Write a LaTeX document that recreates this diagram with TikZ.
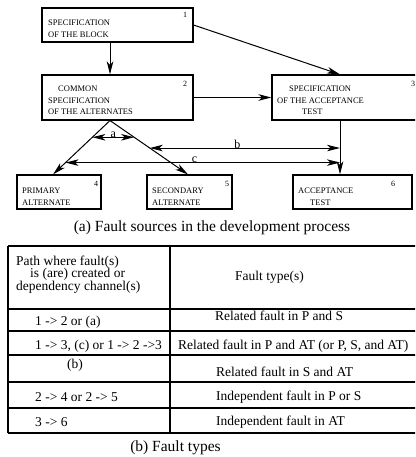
\documentclass[tikz,border=0pt]{standalone}
\usepackage{fontspec}
\setmainfont{Liberation Serif}
\usetikzlibrary{arrows.meta,calc}
\begin{document}
\begin{tikzpicture}[x=1pt,y=-1pt,
  box/.style={draw,line width=1.1pt,inner sep=0pt},
  boxtxt/.style={font=\fontsize{8.5}{11.5}\selectfont,align=left,anchor=west,inner sep=0pt},
  num/.style={font=\fontsize{8}{9}\selectfont,inner sep=0pt},
  tip/.tip={Stealth[length=13pt,width=6.5pt,inset=3.5pt]},
  arr/.style={line width=1pt,-tip},
  darr/.style={line width=1pt,tip-tip},
  lbl/.style={font=\fontsize{12}{14}\selectfont,inner sep=0pt,anchor=south,yshift=-1pt},
  ttxt/.style={font=\fontsize{13.5}{12.6}\selectfont,inner sep=0pt,align=left},
  captxt/.style={font=\fontsize{15.5}{18}\selectfont,inner sep=0pt},
  tline/.style={line width=1.4pt}
]
\useasboundingbox (0,0) rectangle (415,457);
\clip (0,0) rectangle (415,457);

% boxes
\node[box,minimum width=151pt,minimum height=34pt] (b1) at (117.5,25) {};
\node[box,minimum width=151pt,minimum height=45pt] (b2) at (117.5,97.5) {};
\node[box,minimum width=150pt,minimum height=45pt] (b3) at (347,97.5) {};
\node[box,minimum width=84pt,minimum height=34pt] (b4) at (59,192) {};
\node[box,minimum width=85pt,minimum height=34pt] (b5) at (189.5,192) {};
\node[box,minimum width=119pt,minimum height=34pt] (b6) at (352.5,192) {};

% box texts
\node[boxtxt] (t1) at (48,28.5) {SPECIFICATION\\OF THE BLOCK};
\node[boxtxt] (t2) at (48,100.5) {\hspace*{10pt}COMMON\\SPECIFICATION\\OF THE ALTERNATES};
\node[boxtxt] (t3) at (277,100.5) {\hspace*{12pt}SPECIFICATION\\OF THE ACCEPTANCE\\\hspace*{25pt}TEST};
\node[boxtxt] (t4) at (22,196.5) {PRIMARY\\ALTERNATE};
\node[boxtxt] (t5) at (152,196.5) {SECONDARY\\ALTERNATE};
\node[boxtxt] (t6) at (298,196.5) {ACCEPTANCE\\\hspace*{12pt}TEST};

% numbers
\node[num] (n1) at (185,15) {1};
\node[num] (n2) at (185,84) {2};
\node[num] (n3) at (413,84) {3};
\node[num] (n4) at (96,184) {4};
\node[num] (n5) at (227,184) {5};
\node[num] (n6) at (393,184) {6};

% helper coordinates
\coordinate (x12) at (110,0);
\coordinate (x36) at (340,0);
\coordinate (x4) at (53,0);
\coordinate (x5) at (188,0);
\coordinate (apex) at (b2.south -| x12);
\coordinate (top3) at (b3.south -| x36);
\coordinate (tip4) at (b4.north -| x4);
\coordinate (tip5) at (b5.north -| x5);
\coordinate (tip6) at (b6.north -| x36);

% connectors
\draw[arr] (b1.south -| x12) -- (b2.north -| x12);
\draw[arr] (b1.east) -- (b3.north -| x36);
\draw[arr] (b2.east) -- (b3.west);
\draw[arr] (top3) -- (tip6);
\draw[arr] (apex) -- (tip4);
\draw[arr] (apex) -- (tip5);

\coordinate (aL) at ($(apex)!0.31!(tip4)$);
\coordinate (aR) at ($(apex)!0.31!(tip5)$);
\coordinate (bL) at ($(apex)!0.51!(tip5)$);
\coordinate (bR) at ($(top3)!0.51!(tip6)$);
\coordinate (cL) at ($(apex)!0.78!(tip4)$);
\coordinate (cR) at ($(top3)!0.78!(tip6)$);

\draw[darr] (aL) -- node[lbl] (la) {a} (aR);
\draw[darr] (bL) -- node[lbl,pos=0.46] (lb) {b} (bR);
\draw[darr] (cL) -- node[lbl,pos=0.47] (lc) {c} (cR);

\node[captxt] (capa) at (212,228) {(a) Fault sources in the development process};

% table
\draw[tline] (8,246) -- (416,246);
\draw[tline] (8,309) -- (416,309);
\draw[tline] (8,331) -- (416,331);
\draw[tline] (8,355) -- (416,355);
\draw[tline] (8,382) -- (416,382);
\draw[tline] (8,408) -- (416,408);
\draw[tline] (8,433) -- (416,433);
\draw[tline] (8,246) -- (8,433);
\draw[tline] (170,246) -- (170,433);

\node[ttxt,anchor=west] (h1) at (16,274.5) {Path where fault(s)\\\hspace*{14pt}is (are) created or\\dependency channel(s)};
\node[ttxt,anchor=west] (h2) at (235,277) {Fault type(s)};
\node[ttxt,anchor=west] (l1) at (35,322) {1 -> 2 or (a)};
\node[ttxt,anchor=west] (r1) at (215,316) {Related fault in P and S};
\node[ttxt,anchor=west] (l2) at (35,346) {1 -> 3, (c) or 1 -> 2 ->3};
\node[ttxt,anchor=west] (r2) at (178,346) {Related fault in P and AT (or P, S, and AT)};
\node[ttxt] (l3) at (75,365) {(b)};
\node[ttxt,anchor=west] (r3) at (216,372) {Related fault in S and AT};
\node[ttxt,anchor=west] (l4) at (35,397) {2 -> 4 or 2 -> 5};
\node[ttxt,anchor=west] (r4) at (216,397) {Independent fault in P or S};
\node[ttxt,anchor=west] (l5) at (35,422) {3 -> 6};
\node[ttxt,anchor=west] (r5) at (216,422) {Independent fault in AT};

\node[captxt] (capb) at (175.5,448) {(b) Fault types};
\end{tikzpicture}
\end{document}
